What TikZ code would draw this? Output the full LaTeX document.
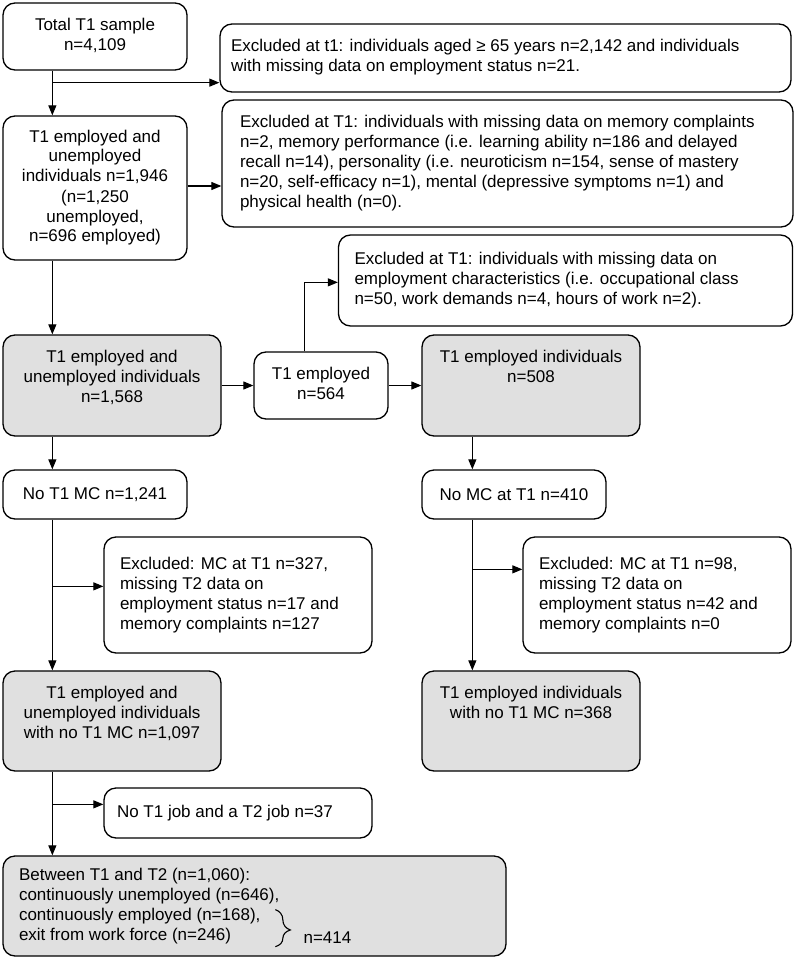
\documentclass[tikz,border=0pt]{standalone}
\usepackage{fontspec}
\setmainfont{Liberation Sans}
\usetikzlibrary{arrows.meta,decorations.pathreplacing}
\definecolor{boxgray}{RGB}{224,224,224}
\newcommand{\mainsz}{\fontsize{17pt}{20pt}\selectfont}
\newcommand{\ctab}[1]{\begin{tabular}{@{}c@{}}#1\end{tabular}}
\newcommand{\lefttab}[3]{\hbox to #1{\hspace*{#2}\begin{tabular}{@{}l@{}}#3\end{tabular}\hfil}}
\newcommand{\toptab}[3]{\vbox to #2{\hsize=#1\vskip 13pt\hbox to #1{\hfil\begin{tabular}[t]{@{}c@{}}#3\end{tabular}\hfil}\vfil}}
\tikzset{
  box/.style={draw, rounded corners=12pt, line width=1.3pt, inner sep=0pt, font=\mainsz},
  grayb/.style={box, fill=boxgray},
  conn/.style={line width=1.1pt, -{Triangle[length=10pt,width=8pt]}},
  plain/.style={line width=1.1pt}
}
\begin{document}
\begin{tikzpicture}[x=1pt,y=-1pt]
\useasboundingbox (0,0) rectangle (795,960);

% boxes
\node[box, minimum width=184pt, minimum height=67pt] (total) at (95,36.5) {\ctab{Total T1 sample\\n=4,109}};
\node[box, minimum height=68pt] (b) at (505.5,58) {\lefttab{571pt}{11pt}{Excluded at t1: individuals aged ≥ 65 years n=2,142 and individuals\\with missing data on employment status n=21.}};
\node[box, minimum width=184pt, minimum height=144pt] (c) at (95,188) {\ctab{T1 employed and\\unemployed\\individuals n=1,946\\(n=1,250\\unemployed,\\n=696 employed)}};
\node[box, minimum height=127pt] (d) at (507.5,163.5) {\lefttab{571pt}{18pt}{Excluded at T1: individuals with missing data on memory complaints\\n=2, memory performance (i.e. learning ability n=186 and delayed\\recall n=14), personality (i.e. neuroticism n=154, sense of mastery\\n=20, self-efficacy n=1), mental (depressive symptoms n=1) and\\physical health (n=0).}};
\node[box, minimum height=91pt] (e) at (565.5,280.5) {\lefttab{454pt}{16pt}{Excluded at T1: individuals with missing data on\\employment characteristics (i.e. occupational class\\n=50, work demands n=4, hours of work n=2).}};
\node[grayb] (f) at (112,385.5) {\toptab{218pt}{101pt}{T1 employed and\\unemployed individuals\\n=1,568}};
\node[box, minimum width=134pt, minimum height=67pt] (g) at (321,385.5) {\ctab{T1 employed\\n=564}};
\node[grayb] (h) at (531,385.5) {\toptab{218pt}{101pt}{T1 employed individuals\\n=508}};
\node[box, minimum width=184pt, minimum height=49pt] (i) at (95,494.5) {No T1 MC n=1,241};
\node[box, minimum width=184pt, minimum height=49pt] (j) at (514,494.5) {No MC at T1 n=410};
\node[box, minimum height=116pt] (k) at (238,595) {\lefttab{268pt}{16pt}{Excluded: MC at T1 n=327,\\missing T2 data on\\employment status n=17 and\\memory complaints n=127}};
\node[box, minimum height=116pt] (l) at (657,595) {\lefttab{268pt}{16pt}{Excluded: MC at T1 n=98,\\missing T2 data on\\employment status n=42 and\\memory complaints n=0}};
\node[grayb] (m) at (112,721) {\toptab{218pt}{100pt}{T1 employed and\\unemployed individuals\\with no T1 MC n=1,097}};
\node[grayb] (n) at (531,721) {\toptab{218pt}{100pt}{T1 employed individuals\\with no T1 MC n=368}};
\node[box, minimum height=50pt] (o) at (238,813) {\lefttab{268pt}{13pt}{No T1 job and a T2 job n=37}};
\node[grayb, minimum height=100pt] (p) at (254.5,906) {\lefttab{503pt}{16pt}{Between T1 and T2 (n=1,060):\\continuously unemployed (n=646),\\continuously employed (n=168),\\exit from work force (n=246)}};

% brace and label inside final box
\draw[decorate, decoration={brace, amplitude=15pt, aspect=0.55}, line width=1.1pt] ([xshift=273pt, yshift=47pt]p.south west) -- ([xshift=273pt, yshift=10pt]p.south west);
\node[anchor=west, inner sep=0pt, font=\mainsz] (n414) at ([xshift=301pt, yshift=19pt]p.south west) {n=414};

% connectors
\coordinate (bA) at ([yshift=10pt]b.south west);
\draw[conn] ([xshift=50pt]total.south west) coordinate (tA) -- ([xshift=50pt]c.north west);
\draw[conn] (tA |- bA) -- (bA);
\draw[conn] ([yshift=2pt]c.east) -- ([yshift=2pt]c.east -| d.west);
\draw[conn] ([xshift=50pt]c.south west) -- ([xshift=50pt]f.north west);
\draw[conn] (f.east) -- (g.west);
\draw[conn] ([xshift=51pt]g.north west) |- ([yshift=-48pt]e.north west);
\draw[conn] (g.east) -- (h.west);
\draw[conn] ([xshift=50pt]f.south west) -- ([xshift=50pt]i.north west);
\draw[conn] ([xshift=51pt]h.south west) -- ([xshift=51pt]j.north west);

\coordinate (kA) at ([yshift=-50pt]k.north west);
\draw[conn] ([xshift=50pt]i.south west) coordinate (tI) -- ([xshift=50pt]m.north west);
\draw[conn] (tI |- kA) -- (kA);

\coordinate (lA) at ([yshift=-33pt]l.north west);
\draw[conn] ([xshift=51pt]j.south west) coordinate (tJ) -- ([xshift=51pt]n.north west);
\draw[conn] (tJ |- lA) -- (lA);

\coordinate (oA) at ([yshift=-17pt]o.north west);
\draw[conn] ([xshift=50pt]m.south west) coordinate (tM) -- ([xshift=50pt]p.north west);
\draw[conn] (tM |- oA) -- (oA);
\end{tikzpicture}
\end{document}
